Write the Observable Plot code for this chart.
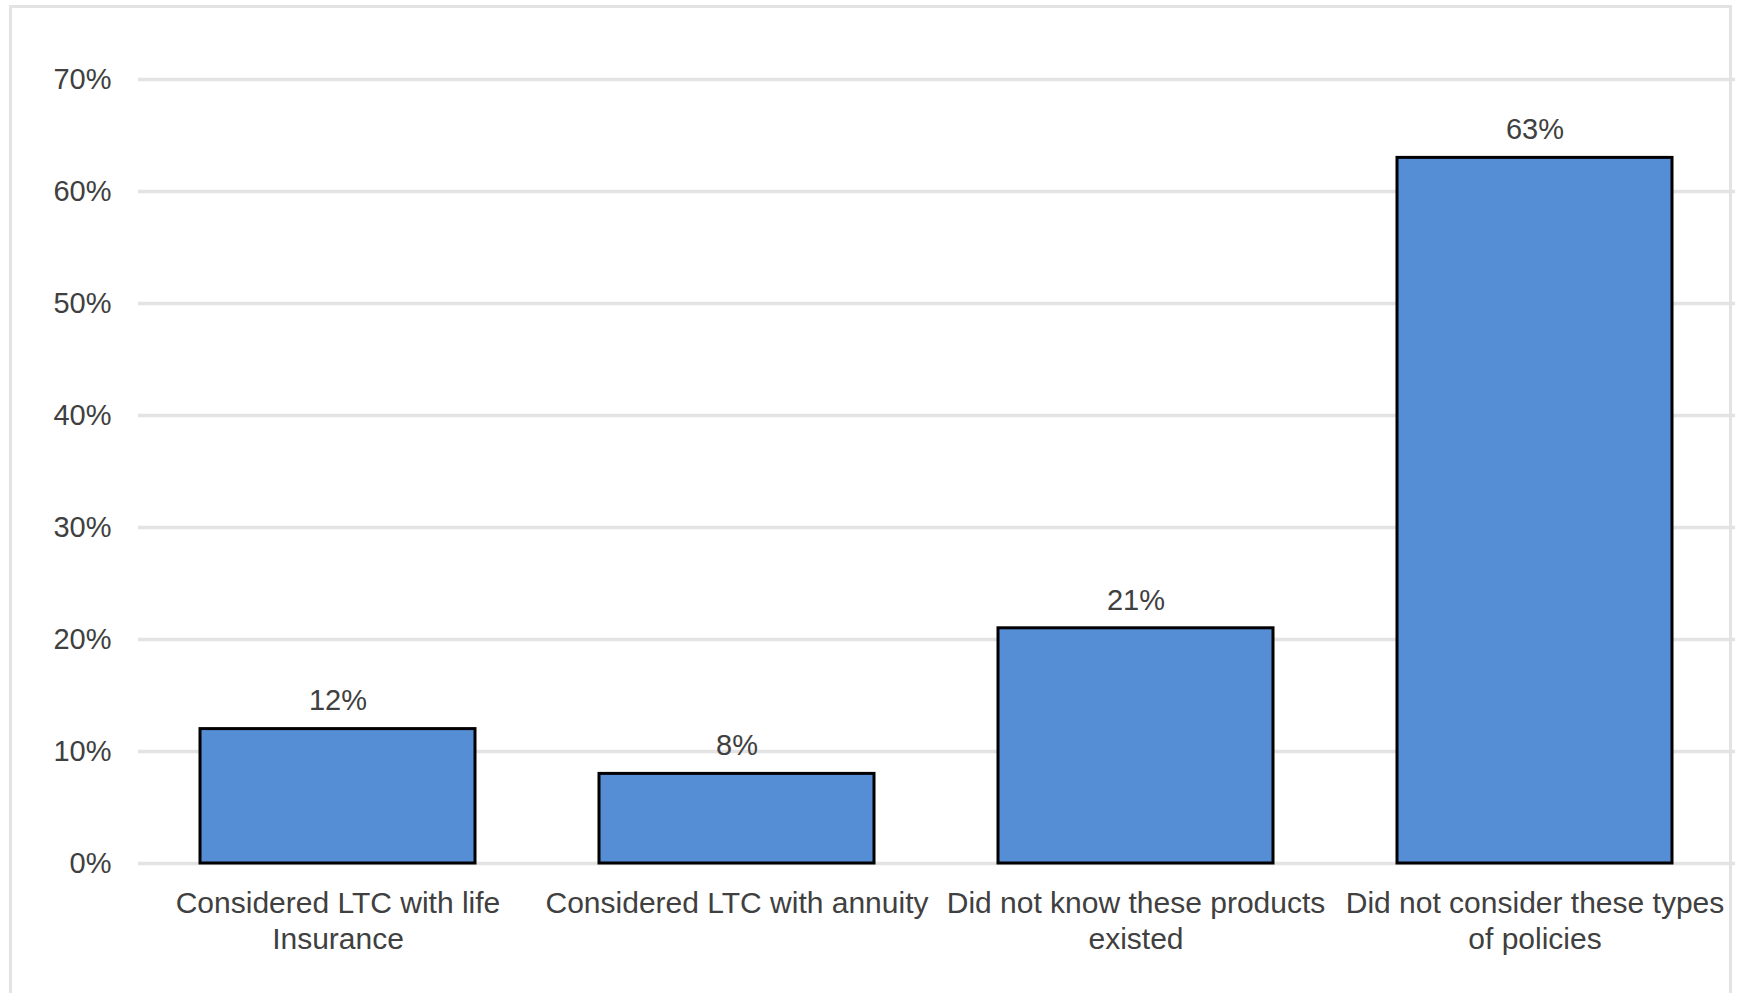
<!DOCTYPE html>
<html>
<head>
<meta charset="utf-8">
<script src="https://cdn.jsdelivr.net/npm/d3@7"></script>
<script src="https://cdn.jsdelivr.net/npm/@observablehq/plot@0.6"></script>
<style>
  html, body { margin: 0; padding: 0; background: #ffffff; }
  #wrap { position: relative; width: 1739px; height: 993px; overflow: hidden; }
  #border { position: absolute; left: 9px; top: 5px; width: 1723px; height: 1100px;
            border: 3px solid #e3e3e3; box-sizing: border-box; }
  #chart { position: absolute; left: 0; top: 0; }
</style>
</head>
<body>
<div id="wrap">
  <div id="border"></div>
  <div id="chart"></div>
</div>
<script>
// Categories, values and tick labels
const categories = [
  "Considered LTC with life Insurance",
  "Considered LTC with annuity",
  "Did not know these products existed",
  "Did not consider these types of policies"
];
const shares = [0.12, 0.08, 0.21, 0.63];
const categoryTickLabels = [
  "Considered LTC with life\nInsurance",
  "Considered LTC with annuity",
  "Did not know these products\nexisted",
  "Did not consider these types\nof policies"
];
const yTicks = [0, 0.1, 0.2, 0.3, 0.4, 0.5, 0.6, 0.7];

const data = categories.map((c, i) => ({category: c, share: shares[i]}));
const labelOf = new Map(categories.map((c, i) => [c, categoryTickLabels[i]]));
const pct = d3.format(".0%");

const textColor = "#404040";

const chart = Plot.plot({
  width: 1739,
  height: 993,
  marginLeft: 138,
  marginRight: 4,
  marginTop: 79,
  marginBottom: 130,
  style: {fontFamily: "'Liberation Sans', Arial, sans-serif", background: "transparent", color: textColor},
  x: {domain: categories, paddingInner: 0.31, paddingOuter: 0.155, label: null},
  y: {domain: [0, 0.7], label: null},
  marks: [
    Plot.gridY(yTicks, {stroke: "#e3e3e3", strokeWidth: 3.5, strokeOpacity: 1}),
    Plot.axisY(yTicks, {tickSize: 0, tickPadding: 27, tickFormat: pct, fontSize: 29, fill: textColor, label: null}),
    Plot.axisX({tickSize: 0, tickPadding: 23, tickFormat: d => labelOf.get(d), fontSize: 30, lineHeight: 1.22, fill: textColor, label: null}),
    Plot.barY(data, {x: "category", y: "share", fill: "#558ed5", stroke: "#000000", strokeWidth: 3}),
    Plot.text(data, {x: "category", y: "share", text: d => pct(d.share), dy: -28, fontSize: 29, fill: textColor})
  ]
});
document.getElementById("chart").appendChild(chart);
</script>
</body>
</html>
